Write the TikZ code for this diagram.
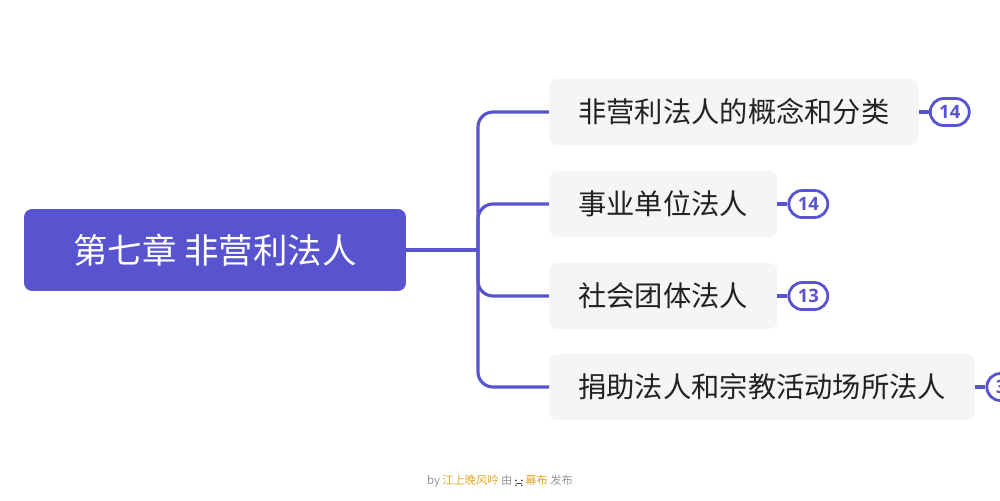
\documentclass[tikz,border=0pt]{standalone}
\usepackage{fontspec}
\setmainfont{Noto Sans CJK SC}
\newfontfamily\numfont{Open Sans}
\usepackage{tikz}
\usetikzlibrary{positioning}

\definecolor{mubupurple}{RGB}{88,84,208}
\definecolor{boxgrey}{RGB}{245,245,245}
\definecolor{textdark}{RGB}{34,34,34}
\definecolor{footgrey}{RGB}{150,150,150}
\definecolor{footgold}{RGB}{226,168,40}

\begin{document}
\begin{tikzpicture}[
        x=0.02cm,
        y=-0.02cm,
        rootbox/.style={fill=mubupurple, rounded corners=0.16cm, text=white,
            font=\fontsize{19.6}{23}\selectfont, minimum width=7.64cm, minimum height=1.64cm},
        topic/.style={fill=boxgrey, rounded corners=0.16cm, text=textdark, anchor=west,
            font=\fontsize{16.1}{19}\selectfont, minimum height=1.32cm, inner xsep=0.58cm},
        branch/.style={mubupurple, line width=1.8pt},
        badge/.style={draw=mubupurple, line width=1.6pt, fill=white, rounded corners=0.27cm,
            minimum width=0.78cm, minimum height=0.54cm, inner sep=0pt, text=mubupurple,
            font=\numfont\bfseries\fontsize{10.5}{12}\selectfont}
    ]
        \useasboundingbox (0,0) rectangle (1000,500);

        \node[rootbox] (root) at (215,250) {第七章 非营利法人};
        \coordinate (trunk) at (478,250);
        \draw[branch] (root.east) -- (trunk);

        \foreach \i/\y/\txt/\num in {1/112/非营利法人的概念和分类/14, 2/204/事业单位法人/14,
                3/296/社会团体法人/13, 4/387/捐助法人和宗教活动场所法人/3\phantom{0}} {
            \node[topic] (c\i) at (549,\y) {\txt};
            \draw[branch, rounded corners=0.3cm] (trunk) |- (c\i.west);
            \node[badge, right=0.2cm of c\i] (b\i) {\num};
            \draw[branch] (c\i.east) -- (b\i.west);
        }

        \node[text=footgrey, font=\fontsize{6.4}{8}\selectfont] (credit) at (500,481)
            {by \textcolor{footgold}{江上晚风吟} 由 \tikz[baseline=-0.25ex]{
                \fill[gray!60!black] (0,-1.4pt) circle (0.55pt) (0,1.4pt) circle (0.55pt)
                    (3.4pt,-1.4pt) circle (0.55pt) (3.4pt,1.4pt) circle (0.55pt);
                \draw[gray!60!black, line width=0.4pt] (0,0) -- (3.4pt,0);}
            \textcolor{footgold}{幕布} 发布};
    \end{tikzpicture}
\end{document}
